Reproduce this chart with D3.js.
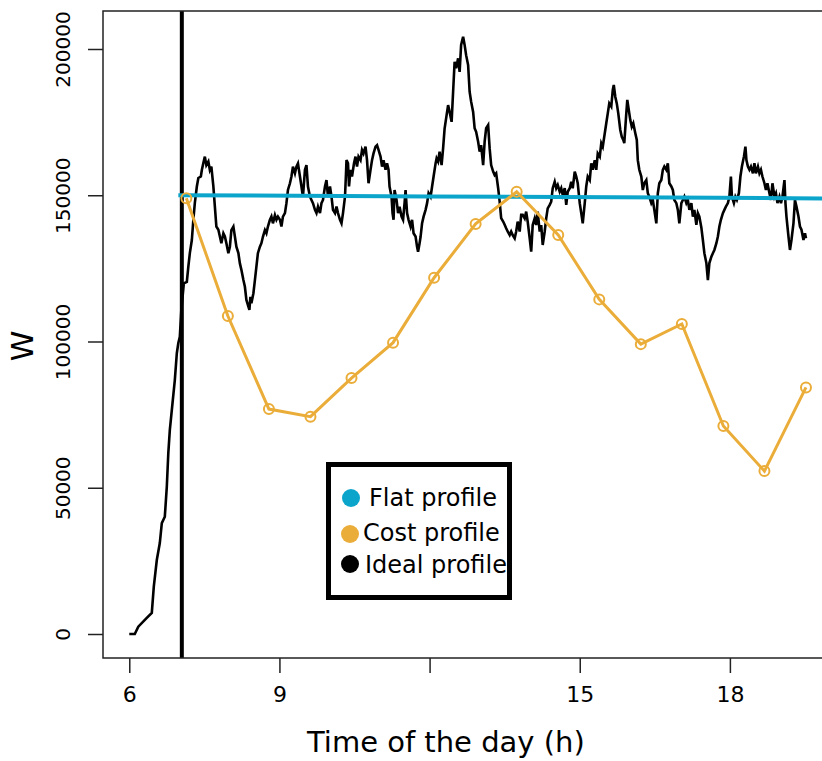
<!DOCTYPE html>
<html>
<head>
<meta charset="utf-8">
<script src="https://cdn.jsdelivr.net/npm/d3@7"></script>
<style>
  body { margin: 0; background: #fff; }
  svg { display: block; font-family: "DejaVu Sans", sans-serif; }
</style>
</head>
<body>
<div id="viz"></div>
<script>
// ---- data ----
let x_ticks = [6, 9, 12, 15, 18];
let x_tick_labels = ["6", "9", "", "15", "18"];
let y_ticks = [0, 50000, 100000, 150000, 200000];

let series_names = ["Flat profile", "Cost profile", "Ideal profile"];
let series_colors = ["#0ba5cb", "#ebad39", "#000000"];

// start of the window (vertical marker), hours
let start_hour = 7.05;

// flat profile: [hour, W]
let flat_profile = [[6.98, 150000], [12.0, 149600], [16.8, 149200], [20.0, 148900]];

// cost profile: [hour, W]
let cost_profile = [
    [7.14, 149000], [7.97, 108700], [8.79, 76900], [9.62, 74300],
    [10.44, 87500], [11.27, 99600], [12.09, 121800], [12.92, 140200],
    [13.74, 151200], [14.57, 136400], [15.39, 114400], [16.22, 99100],
    [17.04, 106000], [17.87, 71100], [18.69, 55700], [19.52, 84300]
];

// ideal profile: [hour, W]
let ideal_profile = [
    [6.00, 0], [6.11, 0], [6.18, 2500], [6.35, 5500], [6.45, 7200], [6.49, 16200],
    [6.55, 25300], [6.61, 31100], [6.65, 37900], [6.71, 40100], [6.75, 50400],
    [6.78, 61900], [6.81, 69700], [6.87, 80000], [6.91, 86800], [6.95, 96000],
    [6.98, 99500], [7.01, 101600], [7.04, 110800], [7.09, 119900], [7.15, 120400],
    [7.18, 125600], [7.21, 130200], [7.25, 134700], [7.28, 141600], [7.31, 147400],
    [7.35, 153000], [7.38, 155900], [7.43, 156400], [7.45, 158600], [7.48, 161000],
    [7.51, 163200], [7.54, 160300], [7.58, 161500], [7.61, 158600], [7.64, 159800],
    [7.68, 153000], [7.71, 146100], [7.74, 139300], [7.78, 138200], [7.81, 135900],
    [7.84, 133600], [7.88, 137000], [7.91, 135900], [7.94, 133600], [7.98, 130200],
    [8.01, 132400], [8.04, 138100], [8.08, 139300], [8.11, 135900], [8.14, 132400],
    [8.18, 130200], [8.21, 126700], [8.24, 124500], [8.28, 121000], [8.31, 118700],
    [8.34, 114200], [8.38, 111900], [8.40, 110800], [8.42, 115300], [8.44, 113100],
    [8.48, 116500], [8.51, 121000], [8.54, 125600], [8.57, 130200], [8.61, 132400],
    [8.64, 133600], [8.67, 135800], [8.71, 138100], [8.74, 137000], [8.77, 139300],
    [8.81, 141600], [8.84, 142700], [8.87, 140400], [8.91, 143200], [8.94, 141600],
    [8.97, 142700], [9.01, 141600], [9.04, 139300], [9.07, 142700], [9.11, 143900],
    [9.14, 147300], [9.17, 151800], [9.21, 154100], [9.24, 156400], [9.27, 159800],
    [9.31, 157500], [9.34, 159800], [9.37, 160900], [9.41, 156400], [9.44, 153000],
    [9.47, 149500], [9.51, 158700], [9.54, 160300], [9.57, 153000], [9.61, 149500],
    [9.64, 148400], [9.67, 147300], [9.71, 145000], [9.74, 143900], [9.77, 146100],
    [9.81, 143900], [9.84, 147300], [9.87, 148400], [9.91, 153000], [9.94, 155200],
    [9.97, 149500], [10.01, 153000], [10.04, 149500], [10.07, 145000], [10.11, 143900],
    [10.14, 146100], [10.17, 143900], [10.21, 141600], [10.24, 140400], [10.27, 143900],
    [10.31, 149500], [10.33, 157500], [10.34, 162000], [10.37, 160900], [10.39, 153000],
    [10.42, 158700], [10.45, 156400], [10.49, 160900], [10.52, 163200], [10.55, 159800],
    [10.58, 163200], [10.62, 162000], [10.65, 165500], [10.68, 164300], [10.72, 166600],
    [10.75, 162000], [10.78, 154100], [10.82, 158700], [10.85, 162000], [10.88, 164300],
    [10.92, 166600], [10.95, 167100], [10.98, 165500], [11.02, 163200], [11.05, 159800],
    [11.08, 162000], [11.12, 158700], [11.15, 160900], [11.18, 158700], [11.20, 153000],
    [11.24, 149500], [11.26, 143900], [11.28, 141600], [11.30, 151800], [11.34, 148400],
    [11.37, 143900], [11.40, 146100], [11.44, 142700], [11.47, 141600], [11.50, 147300],
    [11.52, 151800], [11.55, 143900], [11.58, 141600], [11.62, 139300], [11.65, 141600],
    [11.68, 137000], [11.72, 135900], [11.75, 132400], [11.77, 130700], [11.80, 133600],
    [11.82, 135800], [11.85, 140400], [11.88, 142700], [11.92, 145000], [11.95, 147300],
    [11.98, 150700], [12.02, 149500], [12.05, 153000], [12.08, 156400], [12.12, 160900],
    [12.14, 162600], [12.17, 161500], [12.20, 164900], [12.24, 160300], [12.27, 166000],
    [12.30, 172800], [12.34, 177400], [12.37, 180800], [12.40, 178500], [12.44, 175100],
    [12.47, 185400], [12.50, 195600], [12.53, 193400], [12.57, 196800], [12.60, 192200],
    [12.63, 201400], [12.67, 204200], [12.70, 201400], [12.73, 197900], [12.77, 194500],
    [12.80, 185400], [12.83, 182000], [12.87, 178500], [12.90, 172900], [12.93, 171700],
    [12.97, 168300], [13.00, 164900], [13.03, 167100], [13.07, 160300], [13.10, 168300],
    [13.13, 172900], [13.17, 174000], [13.20, 166000], [13.23, 160300], [13.27, 158100],
    [13.30, 156900], [13.33, 157500], [13.37, 152400], [13.40, 147800], [13.43, 142200],
    [13.47, 141000], [13.50, 139900], [13.53, 138700], [13.56, 137600], [13.60, 136400],
    [13.63, 137600], [13.66, 136400], [13.70, 135300], [13.73, 137600], [13.76, 141000],
    [13.80, 137600], [13.83, 143300], [13.86, 143300], [13.90, 142100], [13.93, 144400],
    [13.96, 141000], [14.00, 135300], [14.03, 130700], [14.06, 139800], [14.10, 142100],
    [14.13, 139800], [14.16, 144400], [14.20, 137600], [14.23, 139800], [14.26, 133000],
    [14.30, 137600], [14.33, 142100], [14.36, 145500], [14.40, 146700], [14.43, 147800],
    [14.46, 152400], [14.50, 154600], [14.53, 152400], [14.56, 153500], [14.60, 151200],
    [14.63, 152400], [14.66, 150100], [14.70, 152400], [14.73, 146700], [14.76, 151200],
    [14.80, 152400], [14.83, 154600], [14.86, 152400], [14.90, 158100], [14.93, 156400],
    [14.96, 154100], [15.00, 147300], [15.03, 143900], [15.06, 140400], [15.10, 147300],
    [15.13, 153000], [15.16, 156400], [15.20, 155200], [15.23, 160900], [15.26, 158700],
    [15.30, 162000], [15.33, 158700], [15.36, 164300], [15.40, 163200], [15.43, 167800],
    [15.46, 166600], [15.50, 171200], [15.53, 174600], [15.56, 178000], [15.59, 181400],
    [15.63, 180300], [15.66, 186000], [15.68, 187700], [15.71, 183700], [15.74, 181400],
    [15.77, 178000], [15.81, 172300], [15.84, 170000], [15.87, 168900], [15.89, 167800],
    [15.93, 178000], [15.95, 182600], [15.97, 180300], [16.01, 175700], [16.04, 173400],
    [16.07, 174600], [16.11, 171200], [16.14, 168900], [16.16, 162000], [16.19, 158700],
    [16.23, 156400], [16.26, 151800], [16.29, 154100], [16.33, 155200], [16.36, 150700],
    [16.39, 149500], [16.43, 147300], [16.46, 148400], [16.49, 145000], [16.53, 140400],
    [16.56, 150700], [16.59, 154100], [16.63, 155200], [16.66, 158700], [16.69, 159800],
    [16.73, 158700], [16.76, 160900], [16.79, 154100], [16.83, 153000], [16.86, 151800],
    [16.89, 148400], [16.93, 147300], [16.96, 145000], [16.99, 140400], [17.03, 147300],
    [17.06, 148400], [17.09, 149500], [17.13, 147300], [17.16, 148400], [17.19, 145000],
    [17.23, 147300], [17.26, 142700], [17.29, 145000], [17.33, 139900], [17.36, 143900],
    [17.39, 142700], [17.43, 138900], [17.46, 134700], [17.49, 130200], [17.53, 126800],
    [17.56, 121000], [17.59, 126800], [17.63, 129000], [17.66, 130200], [17.69, 131300],
    [17.73, 133600], [17.76, 135900], [17.79, 139300], [17.82, 141600], [17.86, 143900],
    [17.89, 145000], [17.92, 146100], [17.96, 147300], [17.99, 149500], [18.02, 156400],
    [18.04, 149500], [18.08, 147300], [18.11, 149500], [18.14, 148400], [18.18, 150700],
    [18.21, 156400], [18.24, 159800], [18.28, 163200], [18.31, 166600], [18.33, 162000],
    [18.36, 159800], [18.39, 158700], [18.42, 159800], [18.46, 157500], [18.49, 161000],
    [18.52, 157500], [18.56, 159800], [18.59, 157500], [18.62, 158700], [18.65, 156400],
    [18.69, 154100], [18.72, 151800], [18.75, 154100], [18.79, 150700], [18.82, 148400],
    [18.85, 154100], [18.89, 149500], [18.92, 150700], [18.95, 147300], [18.99, 149500],
    [19.02, 147300], [19.05, 149500], [19.09, 155200], [19.11, 147300], [19.13, 142700],
    [19.17, 135900], [19.20, 131300], [19.23, 134700], [19.27, 140400], [19.30, 148400],
    [19.33, 146100], [19.37, 142700], [19.40, 139300], [19.43, 138200], [19.47, 134700],
    [19.50, 137000], [19.52, 135300]
];

// ---- layout ----
let width_svg = 822, height_svg = 761;
let plot_left = 103, plot_right = 830, plot_top = 11, plot_bottom = 658;

let svg_container = d3.select("#viz")
    .append("svg")
    .attr("width", width_svg)
    .attr("height", height_svg);

let x_scale = d3.scaleLinear().domain([5.475, 20.0]).range([plot_left, plot_right]);
let y_scale = d3.scaleLinear().domain([-8205, 212990]).range([plot_bottom, plot_top]);

svg_container.append("clipPath")
    .attr("id", "plot_clip")
    .append("rect")
    .attr("x", plot_left)
    .attr("y", plot_top)
    .attr("width", plot_right - plot_left)
    .attr("height", plot_bottom - plot_top);

let plot_area = svg_container.append("g").attr("clip-path", "url(#plot_clip)");

let line_gen = d3.line()
    .x(function(d){ return x_scale(d[0]); })
    .y(function(d){ return y_scale(d[1]); });

// ideal profile
plot_area.append("path")
    .datum(ideal_profile)
    .attr("d", line_gen)
    .attr("fill", "none")
    .attr("stroke", series_colors[2])
    .attr("stroke-width", 2.6)
    .attr("stroke-linejoin", "miter");

// vertical marker
plot_area.append("line")
    .attr("x1", x_scale(start_hour))
    .attr("x2", x_scale(start_hour))
    .attr("y1", plot_top)
    .attr("y2", plot_bottom)
    .attr("stroke", "#000")
    .attr("stroke-width", 4);

// flat profile
plot_area.append("path")
    .datum(flat_profile)
    .attr("d", line_gen)
    .attr("fill", "none")
    .attr("stroke", series_colors[0])
    .attr("stroke-width", 4);

// cost profile
plot_area.append("path")
    .datum(cost_profile)
    .attr("d", line_gen)
    .attr("fill", "none")
    .attr("stroke", series_colors[1])
    .attr("stroke-width", 3);

plot_area.selectAll(".cost_pt")
    .data(cost_profile)
    .enter()
    .append("circle")
    .attr("class", "cost_pt")
    .attr("cx", function(d){ return x_scale(d[0]); })
    .attr("cy", function(d){ return y_scale(d[1]); })
    .attr("r", 5)
    .attr("fill", "none")
    .attr("stroke", series_colors[1])
    .attr("stroke-width", 2);

// box
svg_container.append("rect")
    .attr("x", plot_left)
    .attr("y", plot_top)
    .attr("width", plot_right - plot_left)
    .attr("height", plot_bottom - plot_top)
    .attr("fill", "none")
    .attr("stroke", "#222")
    .attr("stroke-width", 1.5);

// axes
let y_axis = d3.axisLeft(y_scale).tickValues(y_ticks).tickSize(15).tickFormat(d3.format("d"));
let y_g = svg_container.append("g")
    .attr("transform", "translate(" + plot_left + ",0)")
    .call(y_axis);
y_g.select(".domain").remove();
y_g.selectAll("line").attr("stroke", "#222").attr("stroke-width", 1.5);
// each tick group already sits at its own y, so rotate the label round (-40, 0)
y_g.selectAll("text")
    .attr("font-size", 20)
    .attr("font-family", "DejaVu Sans")
    .attr("fill", "#000")
    .attr("x", 0)
    .attr("y", 0)
    .attr("dy", "0.35em")
    .attr("transform", "translate(-40,0) rotate(-90)")
    .style("text-anchor", "middle");

let x_axis = d3.axisBottom(x_scale).tickValues(x_ticks).tickSize(15)
    .tickFormat(function(d, i){ return x_tick_labels[i]; });
let x_g = svg_container.append("g")
    .attr("transform", "translate(0," + plot_bottom + ")")
    .call(x_axis);
x_g.select(".domain").remove();
x_g.selectAll("line").attr("stroke", "#222").attr("stroke-width", 1.5);
x_g.selectAll("text")
    .attr("font-size", 22)
    .attr("font-family", "DejaVu Sans")
    .attr("fill", "#000")
    .attr("y", 28)
    .attr("dy", "0.71em");

// axis titles
svg_container.append("text")
    .attr("x", 307)
    .attr("y", 752)
    .attr("font-size", 29)
    .text("Time of the day (h)");

svg_container.append("text")
    .attr("transform", "translate(33,346) rotate(-90)")
    .attr("font-size", 31)
    .style("text-anchor", "middle")
    .text("W");

// legend
let legend_g = svg_container.append("g").attr("class", "legend");
legend_g.append("rect")
    .attr("x", 328.5)
    .attr("y", 464.5)
    .attr("width", 181)
    .attr("height", 133)
    .attr("fill", "#fff")
    .attr("stroke", "#000")
    .attr("stroke-width", 5);

let legend_rows = [
    {cx: 351, cy: 498, tx: 369, ty: 506},
    {cx: 350, cy: 534, tx: 363, ty: 541},
    {cx: 350, cy: 564, tx: 365, ty: 573}
];

legend_g.selectAll(".leg_dot")
    .data(series_names)
    .enter()
    .append("circle")
    .attr("class", "leg_dot")
    .attr("cx", function(d, i){ return legend_rows[i].cx; })
    .attr("cy", function(d, i){ return legend_rows[i].cy; })
    .attr("r", 9)
    .attr("fill", function(d, i){ return series_colors[i]; });

legend_g.selectAll(".leg_text")
    .data(series_names)
    .enter()
    .append("text")
    .attr("class", "leg_text")
    .attr("x", function(d, i){ return legend_rows[i].tx; })
    .attr("y", function(d, i){ return legend_rows[i].ty; })
    .attr("font-size", 24)
    .text(function(d){ return d; });
</script>
</body>
</html>
